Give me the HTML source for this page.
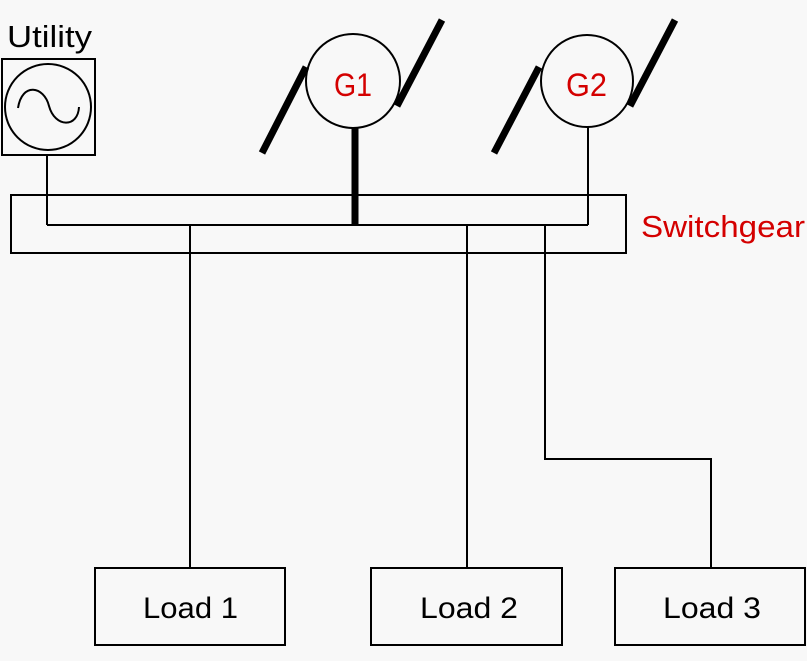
<!DOCTYPE html>
<html><head><meta charset="utf-8"><style>
html,body{margin:0;padding:0;background:#f8f8f8;}
svg{display:block;}
text{font-family:"Liberation Sans",sans-serif;}
</style></head><body>
<svg width="807" height="661" viewBox="0 0 807 661" xmlns="http://www.w3.org/2000/svg">
<rect width="807" height="661" fill="#f8f8f8"/>
<g fill="none" stroke="#000" stroke-width="2">
<rect x="2" y="59" width="93" height="96"/>
<circle cx="48" cy="107" r="43"/>
<path d="M18 108 C 22 82, 44 86, 49 106 C 55 128, 78 128, 79 107"/>
<line x1="47" y1="155" x2="47" y2="225"/>
<rect x="11" y="195" width="615" height="58"/>
<line x1="47" y1="225" x2="588" y2="225"/>
<circle cx="353" cy="81" r="47"/>
<circle cx="587" cy="81" r="46"/>
<line x1="588" y1="127" x2="588" y2="225"/>
<line x1="190" y1="225" x2="190" y2="568"/>
<line x1="467" y1="225" x2="467" y2="568"/>
<polyline points="545,225 545,459 711,459 711,568"/>
<rect x="95" y="568" width="190" height="77"/>
<rect x="371" y="568" width="191" height="77"/>
<rect x="615" y="568" width="190" height="77"/>
</g>
<g stroke="#000" stroke-width="7">
<line x1="355" y1="128" x2="355" y2="225"/>
<line x1="262" y1="153" x2="306" y2="67"/>
<line x1="397" y1="106" x2="442" y2="20"/>
<line x1="494" y1="153" x2="539" y2="67"/>
<line x1="630" y1="106" x2="675" y2="20"/>
</g>
<text x="7" y="47" font-size="31" textLength="85" lengthAdjust="spacingAndGlyphs" fill="#000">Utility</text>
<text x="334" y="96" font-size="32" textLength="38" lengthAdjust="spacingAndGlyphs" fill="#d40000">G1</text>
<text x="566" y="96" font-size="32" textLength="41" lengthAdjust="spacingAndGlyphs" fill="#d40000">G2</text>
<text x="641" y="237" font-size="31" textLength="164" lengthAdjust="spacingAndGlyphs" fill="#d40000">Switchgear</text>
<text x="143" y="618" font-size="30" textLength="95" lengthAdjust="spacingAndGlyphs">Load 1</text>
<text x="420" y="618" font-size="30" textLength="98" lengthAdjust="spacingAndGlyphs">Load 2</text>
<text x="663" y="618" font-size="30" textLength="98" lengthAdjust="spacingAndGlyphs">Load 3</text>
</svg>
</body></html>
